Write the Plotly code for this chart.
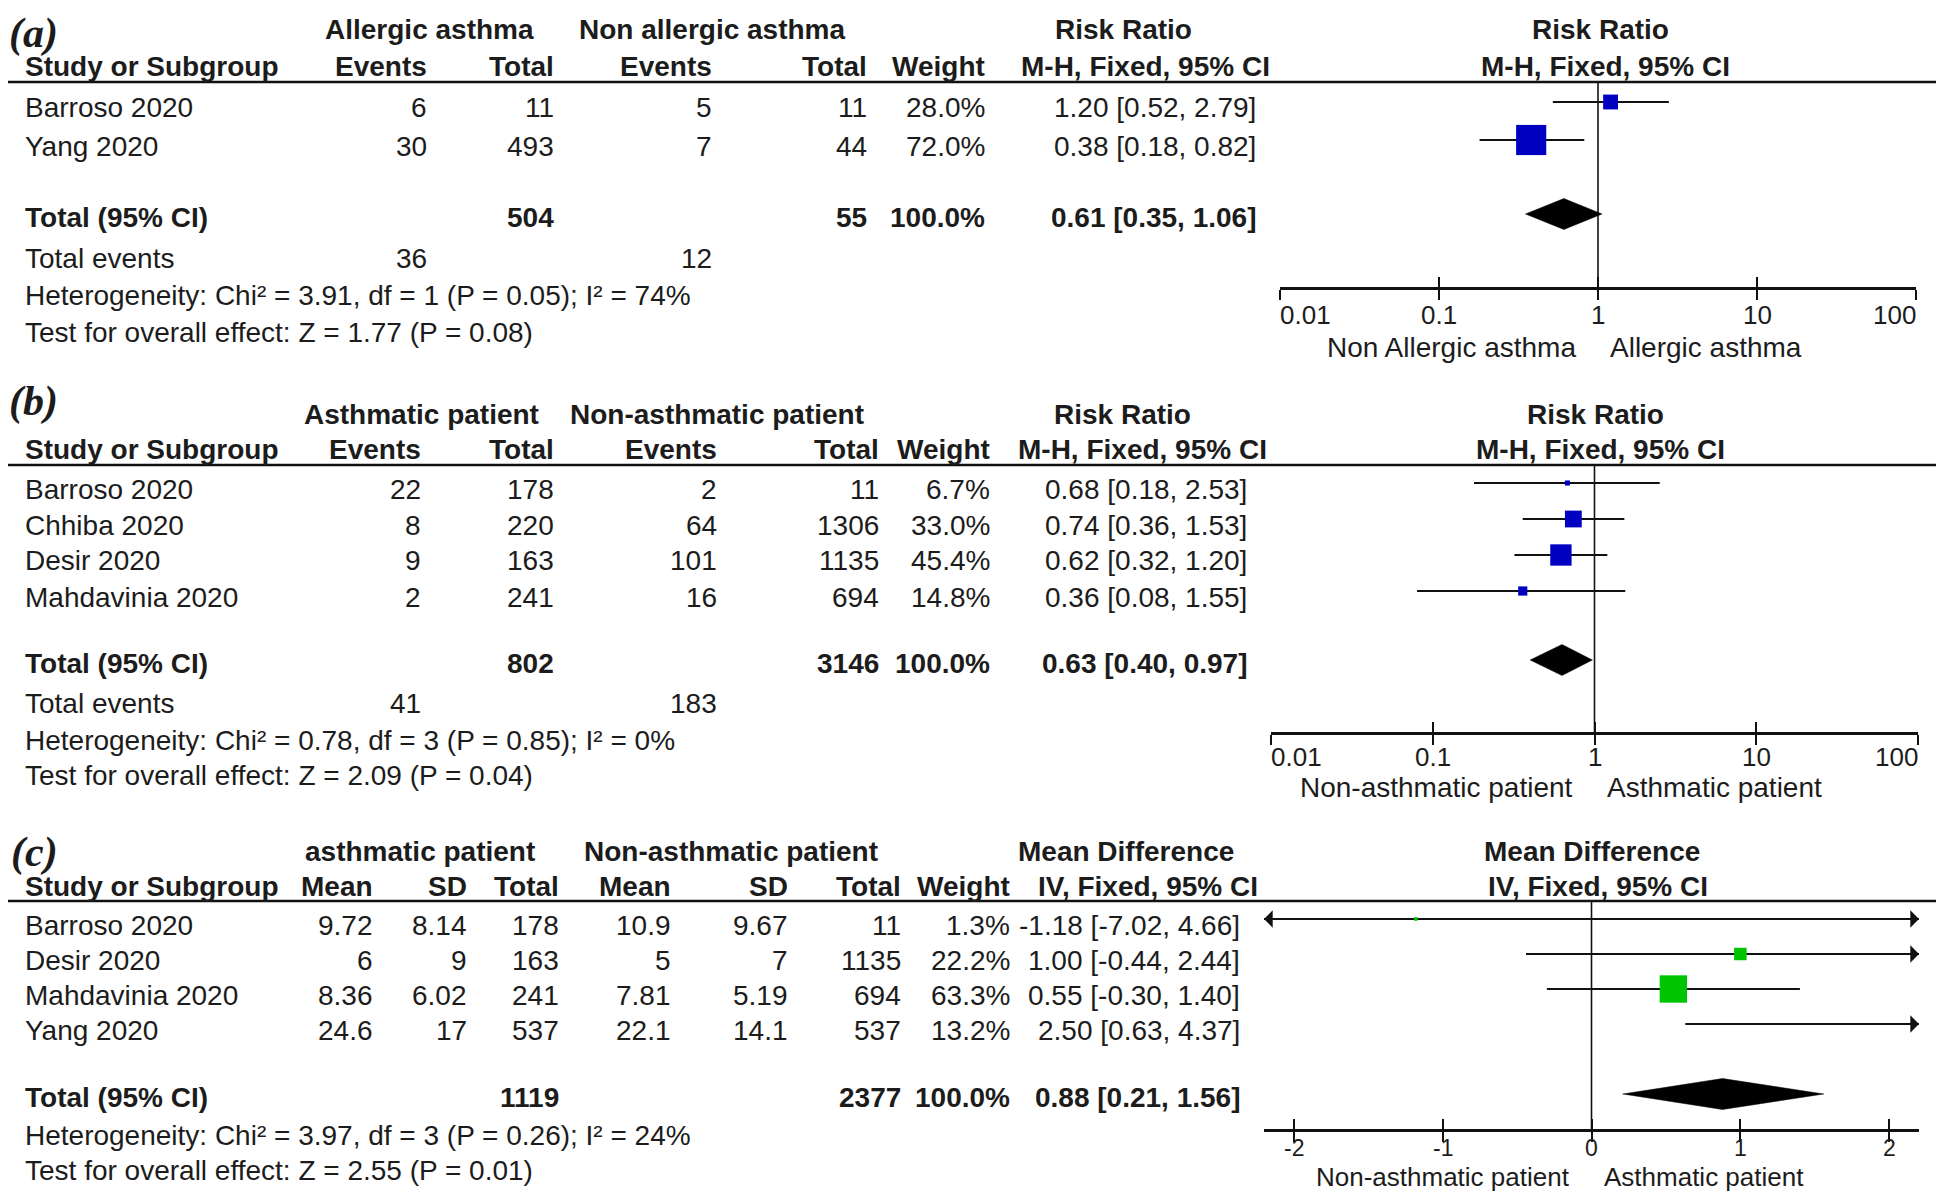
import math
import plotly.graph_objects as go

# screen size; the page body adds an 8 px margin around the figure
SCR_W, SCR_H = 1944, 1200
OFF = 8
W, H = SCR_W - 2 * OFF, SCR_H - 2 * OFF

# ---------------- data: panel (a) ----------------
a_studies = ["Barroso 2020", "Yang 2020"]
a_exp_events = [6, 30]
a_exp_total = [11, 493]
a_ctl_events = [5, 7]
a_ctl_total = [11, 44]
a_weight = [28.0, 72.0]
a_est = [1.20, 0.38]
a_lo = [0.52, 0.18]
a_hi = [2.79, 0.82]
a_sum_totals = [504, 55]
a_sum_effect = [0.61, 0.35, 1.06]
a_sum_events = [36, 12]
a_het = "Heterogeneity: Chi² = 3.91, df = 1 (P = 0.05); I² = 74%"
a_test = "Test for overall effect: Z = 1.77 (P = 0.08)"
a_groups = ["Allergic asthma", "Non allergic asthma"]
a_favours = ["Non Allergic asthma", "Allergic asthma"]

# ---------------- data: panel (b) ----------------
b_studies = ["Barroso 2020", "Chhiba 2020", "Desir 2020", "Mahdavinia 2020"]
b_exp_events = [22, 8, 9, 2]
b_exp_total = [178, 220, 163, 241]
b_ctl_events = [2, 64, 101, 16]
b_ctl_total = [11, 1306, 1135, 694]
b_weight = [6.7, 33.0, 45.4, 14.8]
b_est = [0.68, 0.74, 0.62, 0.36]
b_lo = [0.18, 0.36, 0.32, 0.08]
b_hi = [2.53, 1.53, 1.20, 1.55]
b_sum_totals = [802, 3146]
b_sum_effect = [0.63, 0.40, 0.97]
b_sum_events = [41, 183]
b_het = "Heterogeneity: Chi² = 0.78, df = 3 (P = 0.85); I² = 0%"
b_test = "Test for overall effect: Z = 2.09 (P = 0.04)"
b_groups = ["Asthmatic patient", "Non-asthmatic patient"]
b_favours = ["Non-asthmatic patient", "Asthmatic patient"]

# ---------------- data: panel (c) ----------------
c_studies = ["Barroso 2020", "Desir 2020", "Mahdavinia 2020", "Yang 2020"]
c_exp_mean = [9.72, 6, 8.36, 24.6]
c_exp_sd = [8.14, 9, 6.02, 17]
c_exp_total = [178, 163, 241, 537]
c_ctl_mean = [10.9, 5, 7.81, 22.1]
c_ctl_sd = [9.67, 7, 5.19, 14.1]
c_ctl_total = [11, 1135, 694, 537]
c_weight = [1.3, 22.2, 63.3, 13.2]
c_est = [-1.18, 1.00, 0.55, 2.50]
c_lo = [-7.02, -0.44, -0.30, 0.63]
c_hi = [4.66, 2.44, 1.40, 4.37]
c_sum_totals = [1119, 2377]
c_sum_effect = [0.88, 0.21, 1.56]
c_het = "Heterogeneity: Chi² = 3.97, df = 3 (P = 0.26); I² = 24%"
c_test = "Test for overall effect: Z = 2.55 (P = 0.01)"
c_groups = ["asthmatic patient", "Non-asthmatic patient"]
c_favours = ["Non-asthmatic patient", "Asthmatic patient"]

log_ticks = [0.01, 0.1, 1, 10, 100]
log_tick_labels = ["0.01", "0.1", "1", "10", "100"]
lin_ticks = [-2, -1, 0, 1, 2]
lin_tick_labels = ["-2", "-1", "0", "1", "2"]

# ---------------- style ----------------
SANS = "Liberation Sans, Arial, Helvetica, sans-serif"
SERIF = "Liberation Serif, Times New Roman, serif"
FS = 28
TXT = "#1c1c1c"
BLUE = "#0000C0"
GREEN = "#00C400"
MARK_DY = -6
DIAM_DY = -3

annotations = []
shapes = []
traces = []


def px_x(x):
    return (x - OFF) / W


def px_y(y):
    return 1 - (y - OFF) / H


def txt(x, y, s, anchor="left", bold=False, size=FS, family=SANS, italic=False):
    annotations.append(dict(
        x=px_x(x), y=px_y(y), xref="paper", yref="paper",
        text=s, showarrow=False, xanchor=anchor, yanchor="middle",
        borderpad=0, borderwidth=0,
        font=dict(family=family, size=size, color=TXT,
                  weight="bold" if bold else "normal",
                  style="italic" if italic else "normal")))


def fmt_eff(e, l, h):
    return f"{e:.2f} [{l:.2f}, {h:.2f}]"


def build_panel(k, P, D):
    xa = "x" if k == 1 else f"x{k}"
    ya = "y" if k == 1 else f"y{k}"
    xo = f"x{k + 3}"
    is_log = P["log"]
    null = 1 if is_log else 0

    # panel tag
    txt(P["tag_x"], P["tag_y"], P["tag"], bold=True, italic=True, size=42, family=SERIF)
    # headers
    for gx, g in zip(P["grp"], D["groups"]):
        txt(gx, P["h1"], g, anchor="center", bold=True)
    txt(25, P["h2"], "Study or Subgroup", bold=True)
    for cx, hlab in zip(P["cols"], D["col_heads"]):
        txt(cx, P["h2"], hlab, anchor="right", bold=True)
    txt(P["effh"][0], P["h1"], D["eff_head"][0], anchor="center", bold=True)
    txt(P["effh"][1], P["h2"], D["eff_head"][1], anchor="center", bold=True)
    txt(P["rh"][0], P["h1"], D["eff_head"][0], anchor="center", bold=True)
    txt(P["rh"][1], P["h2"], D["eff_head"][1], anchor="center", bold=True)

    # rule under header
    shapes.append(dict(type="line", xref="paper", yref="paper", x0=0, x1=1,
                       y0=px_y(P["rule"]), y1=px_y(P["rule"]),
                       line=dict(color="#111111", width=2.5)))

    n = len(D["studies"])
    rows = [P["row0"] + i * P["step"] for i in range(n)]
    for i, ry in enumerate(rows):
        txt(25, ry, D["studies"][i])
        for cx, col in zip(P["cols"], D["cells"]):
            txt(cx, ry, col[i], anchor="right")
        txt(P["eff"], ry, fmt_eff(D["est"][i], D["lo"][i], D["hi"][i]), anchor="right")

    ty = P["total"]
    txt(25, ty, "Total (95% CI)", bold=True)
    for cx, v in zip(P["cols"], D["total_cells"]):
        if v != "":
            txt(cx, ty, v, anchor="right", bold=True)
    txt(P["eff"], ty, fmt_eff(*D["sum_effect"]), anchor="right", bold=True)
    if D.get("events_cells"):
        txt(25, P["ev_y"], "Total events")
        for cx, v in zip(P["cols"], D["events_cells"]):
            if v != "":
                txt(cx, P["ev_y"], v, anchor="right")
    txt(25, P["het_y"], D["het"])
    txt(25, P["test_y"], D["test"])

    # ---- forest part ----
    rng = P["rng"]
    xmin = 10 ** rng[0] if is_log else rng[0]
    xmax = 10 ** rng[1] if is_log else rng[1]

    # line of no effect
    traces.append(go.Scatter(x=[null, null], y=[P["rule"], P["axis"]], mode="lines",
                             line=dict(color="#111111", width=1.6), xaxis=xa, yaxis=ya,
                             hoverinfo="skip", showlegend=False))
    # confidence intervals (clipped to the axis, arrow when beyond)
    lx, ly = [], []
    for i, ry in enumerate(rows):
        lo_c = max(D["lo"][i], xmin)
        hi_c = min(D["hi"][i], xmax)
        lx += [lo_c, hi_c, None]
        ly += [ry + MARK_DY, ry + MARK_DY, None]
        if D["hi"][i] > xmax:
            annotations.append(dict(x=(math.log10(xmax) if is_log else xmax),
                                    y=px_y(ry + MARK_DY), xref=xa, yref="paper", text="",
                                    showarrow=True, ax=-14, ay=0, arrowhead=1, arrowsize=1.45,
                                    arrowwidth=2, arrowcolor="#111111", standoff=0))
        if D["lo"][i] < xmin:
            annotations.append(dict(x=(math.log10(xmin) if is_log else xmin),
                                    y=px_y(ry + MARK_DY), xref=xa, yref="paper", text="",
                                    showarrow=True, ax=14, ay=0, arrowhead=1, arrowsize=1.45,
                                    arrowwidth=2, arrowcolor="#111111", standoff=0))
    traces.append(go.Scatter(x=lx, y=ly, mode="lines", line=dict(color="#111111", width=2.2),
                             xaxis=xa, yaxis=ya, hoverinfo="skip", showlegend=False))
    # weight boxes
    bx, by, bs = [], [], []
    for i, ry in enumerate(rows):
        if xmin <= D["est"][i] <= xmax:
            bx.append(D["est"][i])
            by.append(ry + MARK_DY)
            bs.append(max(3.5, 1.22 * D["weight"][i] ** 0.75))
    traces.append(go.Scatter(x=bx, y=by, mode="markers",
                             marker=dict(symbol="square", size=bs, color=D["color"], opacity=1,
                                         line=dict(width=0)),
                             xaxis=xa, yaxis=ya, hoverinfo="skip", showlegend=False))
    # pooled diamond
    e, l, h = D["sum_effect"]
    dy = ty + DIAM_DY
    traces.append(go.Scatter(x=[l, e, h, e, l], y=[dy, dy - 15.5, dy, dy + 15.5, dy],
                             mode="lines", fill="toself", fillcolor="black",
                             line=dict(color="black", width=0.5), xaxis=xa, yaxis=ya,
                             hoverinfo="skip", showlegend=False))
    # invisible trace for overlay axis (upper tick halves)
    traces.append(go.Scatter(x=[null], y=[P["axis"]], mode="markers", marker=dict(opacity=0),
                             xaxis=xo, yaxis=ya, hoverinfo="skip", showlegend=False))

    # tick labels
    for tv, tl in zip(D["ticks"], D["tick_labels"]):
        if tv == xmin:
            anc = "left"
        elif tv == xmax:
            anc = "right"
        else:
            anc = "center"
        annotations.append(dict(x=(math.log10(tv) if is_log else tv), y=px_y(P["tick_y"]),
                                xref=xa, yref="paper", text=tl, showarrow=False,
                                xanchor=anc, yanchor="middle", borderpad=0, borderwidth=0,
                                font=dict(family=SANS, size=P["tick_fs"], color=TXT)))
    for j, (anc, sh) in enumerate([("right", -22), ("left", 12)]):
        annotations.append(dict(x=0, y=px_y(P["fav_y"]), xref=xa, yref="paper",
                                text=D["favours"][j], showarrow=False, xanchor=anc,
                                yanchor="middle", xshift=sh, borderpad=0, borderwidth=0,
                                font=dict(family=SANS, size=P["fav_fs"], color=TXT)))

    dom_x = [px_x(P["fx"][0]), px_x(P["fx"][1])]
    dom_y = [px_y(P["axis"]), px_y(P["rule"])]
    axtype = "log" if is_log else "linear"
    xax = dict(domain=dom_x, range=list(rng), type=axtype, anchor=ya, showline=True,
               linecolor="#111111", linewidth=2.6, ticks="outside", ticklen=10, tickwidth=2.2,
               tickcolor="#111111", tickvals=D["ticks"], showticklabels=False, showgrid=False,
               zeroline=False, fixedrange=True)
    xov = dict(overlaying=xa, anchor=ya, range=list(rng), type=axtype, showline=False,
               ticks="inside", ticklen=10, tickwidth=2.2, tickcolor="#111111",
               tickvals=D["ticks"], showticklabels=False, showgrid=False, zeroline=False,
               fixedrange=True)
    yax = dict(domain=dom_y, range=[P["axis"], P["rule"]], visible=False, anchor=xa,
               fixedrange=True)
    return xax, xov, yax


def pct(w):
    return f"{w:.1f}%"


D_a = dict(studies=a_studies, groups=a_groups, favours=a_favours,
           col_heads=["Events", "Total", "Events", "Total", "Weight"],
           eff_head=["Risk Ratio", "M-H, Fixed, 95% CI"],
           cells=[[str(v) for v in a_exp_events], [str(v) for v in a_exp_total],
                  [str(v) for v in a_ctl_events], [str(v) for v in a_ctl_total],
                  [pct(w) for w in a_weight]],
           total_cells=["", str(a_sum_totals[0]), "", str(a_sum_totals[1]),
                        pct(round(sum(a_weight)))],
           events_cells=[str(a_sum_events[0]), "", str(a_sum_events[1]), "", ""],
           est=a_est, lo=a_lo, hi=a_hi, weight=a_weight, sum_effect=a_sum_effect,
           het=a_het, test=a_test, color=BLUE, ticks=log_ticks, tick_labels=log_tick_labels)

D_b = dict(studies=b_studies, groups=b_groups, favours=b_favours,
           col_heads=["Events", "Total", "Events", "Total", "Weight"],
           eff_head=["Risk Ratio", "M-H, Fixed, 95% CI"],
           cells=[[str(v) for v in b_exp_events], [str(v) for v in b_exp_total],
                  [str(v) for v in b_ctl_events], [str(v) for v in b_ctl_total],
                  [pct(w) for w in b_weight]],
           total_cells=["", str(b_sum_totals[0]), "", str(b_sum_totals[1]),
                        pct(round(sum(b_weight)))],
           events_cells=[str(b_sum_events[0]), "", str(b_sum_events[1]), "", ""],
           est=b_est, lo=b_lo, hi=b_hi, weight=b_weight, sum_effect=b_sum_effect,
           het=b_het, test=b_test, color=BLUE, ticks=log_ticks, tick_labels=log_tick_labels)

D_c = dict(studies=c_studies, groups=c_groups, favours=c_favours,
           col_heads=["Mean", "SD", "Total", "Mean", "SD", "Total", "Weight"],
           eff_head=["Mean Difference", "IV, Fixed, 95% CI"],
           cells=[[f"{v:g}" for v in c_exp_mean], [f"{v:g}" for v in c_exp_sd],
                  [str(v) for v in c_exp_total], [f"{v:g}" for v in c_ctl_mean],
                  [f"{v:g}" for v in c_ctl_sd], [str(v) for v in c_ctl_total],
                  [pct(w) for w in c_weight]],
           total_cells=["", "", str(c_sum_totals[0]), "", "", str(c_sum_totals[1]),
                        pct(round(sum(c_weight)))],
           events_cells=None,
           est=c_est, lo=c_lo, hi=c_hi, weight=c_weight, sum_effect=c_sum_effect,
           het=c_het, test=c_test, color=GREEN, ticks=lin_ticks, tick_labels=lin_tick_labels)

P_a = dict(tag="(a)", tag_x=9, tag_y=33, h1=29, h2=67, rule=82, row0=108, step=38, total=217,
           ev_y=258, het_y=295, test_y=333, axis=287, tick_y=315, fav_y=347,
           tick_fs=26, fav_fs=FS,
           fx=(1280, 1916), log=True, rng=(-2, 2),
           cols=[427, 554, 712, 867, 985], eff=1256, grp=[429, 712],
           effh=(1123, 1145), rh=(1600, 1605))
P_b = dict(tag="(b)", tag_x=9, tag_y=401, h1=414, h2=450, rule=465, row0=489, step=36, total=663,
           ev_y=703, het_y=740, test_y=775, axis=732, tick_y=757, fav_y=787,
           tick_fs=26, fav_fs=FS,
           fx=(1271, 1918), log=True, rng=(-2, 2),
           cols=[421, 554, 717, 879, 990], eff=1247, grp=[421, 717],
           effh=(1122, 1142), rh=(1595, 1600))
P_c = dict(tag="(c)", tag_x=11, tag_y=852, h1=851, h2=886, rule=901, row0=925, step=35, total=1097,
           ev_y=None, het_y=1135, test_y=1170, axis=1129, tick_y=1148, fav_y=1177,
           tick_fs=23, fav_fs=26,
           fx=(1264, 1919), log=False, rng=(-2.2, 2.2),
           cols=[373, 467, 559, 671, 788, 901, 1010], eff=1240, grp=[420, 731],
           effh=(1126, 1148), rh=(1592, 1598))

layout_axes = {}
for k, (P, D) in enumerate([(P_a, D_a), (P_b, D_b), (P_c, D_c)], start=1):
    xax, xov, yax = build_panel(k, P, D)
    layout_axes["xaxis" if k == 1 else f"xaxis{k}"] = xax
    layout_axes[f"xaxis{k + 3}"] = xov
    layout_axes["yaxis" if k == 1 else f"yaxis{k}"] = yax

fig = go.Figure(data=traces)
fig.update_layout(
    width=W, height=H, margin=dict(l=0, r=0, t=0, b=0, pad=0),
    paper_bgcolor="white", plot_bgcolor="rgba(0,0,0,0)", showlegend=False,
    annotations=annotations, shapes=shapes, font=dict(family=SANS, color=TXT),
    **layout_axes)
fig.write_html("out.html")
